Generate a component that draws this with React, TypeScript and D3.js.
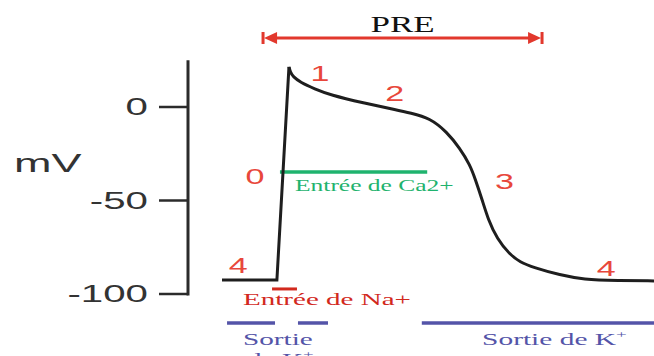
import React from "react";
import * as d3 from "d3";

// ---- data ----
const timeDomain = [-60, 420]; // ms
const voltageDomain = [-100, 0]; // mV
const axisTop = 25; // mV
const voltageTicks = [0, -50, -100];

const apTime = [-60, 1, 14.4, 16, 19, 27, 43, 60, 97, 134, 149, 171, 190, 204, 215.6, 221, 229, 235.6, 245.6, 260, 271, 286, 316, 341, 380, 420];
const apVoltage = [-92.5, -92.5, 21.5, 18.5, 16.2, 13.2, 9.7, 6.5, 2.2, -1.6, -3.2, -5.9, -13.4, -21.9, -31, -38, -49.5, -60, -70.5, -79, -82.9, -85.8, -89.9, -92.2, -92.8, -93];

const phaseLabels = ["0", "1", "2", "3", "4", "4"];
const phaseTime = [-23.3, 49, 132, 254, -42, 367];
const phaseVoltage = [-37, 18, 7.3, -40, -84.5, -86.3];

const caTime = [4.4, 168];
const caVoltage = -34.8;
const naTime = [-4.4, 23.3];
const naVoltage = -97.3;
const kSegStart = [-54.4, 24.4, 162];
const kSegEnd = [-1.1, 57.8, 420];
const kVoltage = -115.5;

const preTime = [-14.4, 295.6];
const preVoltage = 36.9;

const ionTexts = ["Entrée de Ca2+", "Entrée de Na+", "Sortie", "de K", "Sortie de K"];
const ionTextTime = [21.1, -36.7, -36.7, -32.2, 229];
const ionTextVoltage = [-44.7, -105.9, -127.3, -138, -127.3];

export default function App() {
  const W = 654;
  const H = 356;
  const x = d3.scaleLinear().domain(timeDomain).range([222, 654]);
  const y = d3.scaleLinear().domain(voltageDomain).range([294, 107]);
  const axisX = 188;

  const pts: [number, number][] = apTime.map((t, i) => [t, apVoltage[i]]);
  const rise = d3.line<[number, number]>().x((d) => x(d[0])).y((d) => y(d[1]))(pts.slice(0, 3));
  const decay = d3
    .line<[number, number]>()
    .x((d) => x(d[0]))
    .y((d) => y(d[1]))
    .curve(d3.curveBasis)(pts.slice(2));

  const red = "#e8473b";
  const darkRed = "#d2291d";
  const green = "#1fb36e";
  const blue = "#5454a8";
  const serif = "'Liberation Serif', 'Times New Roman', serif";
  const sans = "'Liberation Sans', Arial, sans-serif";

  const ionColors = [green, darkRed, blue, blue, blue];
  const ionStretch = [1.5, 1.71, 1.72, 1.72, 1.73];
  const ionSup = [false, false, false, true, true];

  const preY = y(preVoltage);
  const px0 = x(preTime[0]);
  const px1 = x(preTime[1]);

  return (
    <div style={{ position: "absolute", left: 0, top: 0 }}>
      <svg width={W} height={H} style={{ display: "block", background: "#fff" }}>
        {/* PRE arrow */}
        <text
          transform={`translate(${x((preTime[0] + preTime[1]) / 2)},${y(40.1)}) scale(1.52,1)`}
          textAnchor="middle"
          fontFamily={serif}
          fontSize={23}
          fill="#111"
        >
          PRE
        </text>
        <g stroke="#e2382d" fill="#e2382d">
          <line x1={px0 + 6} x2={px1 - 6} y1={preY} y2={preY} strokeWidth={3} />
          <line x1={px0} x2={px0} y1={preY - 6} y2={preY + 6} strokeWidth={3} />
          <line x1={px1} x2={px1} y1={preY - 6} y2={preY + 6} strokeWidth={3} />
          <path d={`M${px0 + 1},${preY} L${px0 + 14},${preY - 6} L${px0 + 14},${preY + 6} Z`} stroke="none" />
          <path d={`M${px1 - 1},${preY} L${px1 - 14},${preY - 6} L${px1 - 14},${preY + 6} Z`} stroke="none" />
        </g>

        {/* Y axis */}
        <line x1={axisX} x2={axisX} y1={y(axisTop)} y2={y(-100) + 1.5} stroke="#2b2b2b" strokeWidth={3} />
        {voltageTicks.map((v) => (
          <g key={v}>
            <line x1={159} x2={axisX} y1={y(v)} y2={y(v)} stroke="#2b2b2b" strokeWidth={2.5} />
            <text
              transform={`translate(148,${y(v)}) scale(1.75,1)`}
              textAnchor="end"
              dominantBaseline="central"
              fontFamily={sans}
              fontSize={23}
              fill="#333"
            >
              {v}
            </text>
          </g>
        ))}
        <text
          transform={`translate(14,${y(-30)}) scale(1.8,1)`}
          dominantBaseline="central"
          fontFamily={sans}
          fontSize={25}
          fill="#333"
        >
          mV
        </text>

        {/* ion currents */}
        <line x1={x(caTime[0])} x2={x(caTime[1])} y1={y(caVoltage)} y2={y(caVoltage)} stroke={green} strokeWidth={3.5} />
        <line x1={x(naTime[0])} x2={x(naTime[1])} y1={y(naVoltage)} y2={y(naVoltage)} stroke={darkRed} strokeWidth={3} />
        {kSegStart.map((s, i) => (
          <line key={i} x1={x(s)} x2={x(kSegEnd[i])} y1={y(kVoltage)} y2={y(kVoltage)} stroke={blue} strokeWidth={3.5} />
        ))}

        {/* action potential */}
        <path d={rise || ""} fill="none" stroke="#1e1e1e" strokeWidth={3} strokeLinejoin="miter" />
        <path d={decay || ""} fill="none" stroke="#1e1e1e" strokeWidth={3} />

        {/* phase labels */}
        {phaseLabels.map((l, i) => (
          <text
            key={i}
            transform={`translate(${x(phaseTime[i])},${y(phaseVoltage[i])}) scale(1.55,1)`}
            textAnchor="middle"
            dominantBaseline="central"
            fontFamily={sans}
            fontSize={22}
            fill={red}
          >
            {l}
          </text>
        ))}

        {/* ion text */}
        {ionTexts.map((t, i) => (
          <text
            key={i}
            transform={`translate(${x(ionTextTime[i])},${y(ionTextVoltage[i])}) scale(${ionStretch[i]},1)`}
            fontFamily={serif}
            fontSize={17}
            fill={ionColors[i]}
          >
            {t}
            {ionSup[i] ? (
              <tspan dy={-7} fontSize={11}>
                +
              </tspan>
            ) : null}
          </text>
        ))}
      </svg>
    </div>
  );
}
